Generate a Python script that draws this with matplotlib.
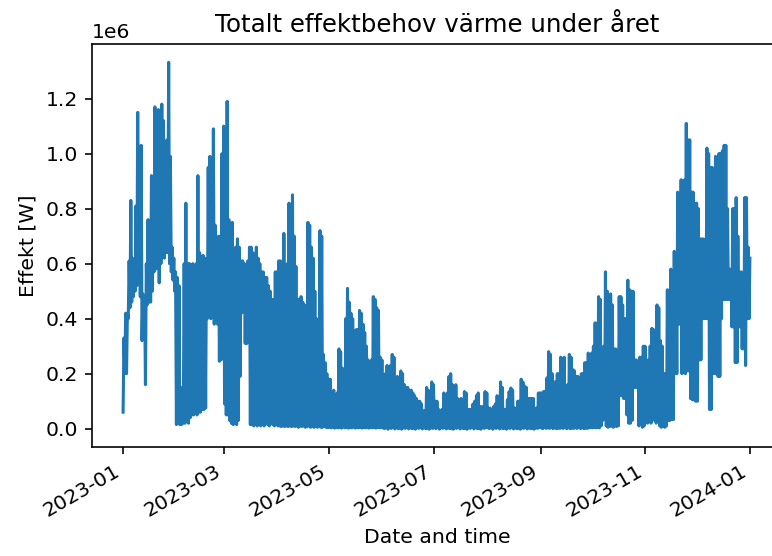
import numpy as np
import matplotlib
matplotlib.use("Agg")
import matplotlib.pyplot as plt
import matplotlib.dates as mdates

# Daily upper / lower envelope of the heat demand, in units of 1e6 W
daily_max = [
    # Jan
    0.33, 0.42, 0.42, 0.61, 0.83, 0.62, 0.60, 0.81, 1.15, 1.00, 1.03, 0.49, 0.48, 0.60, 0.76, 0.70,
    0.92, 0.71, 1.17, 1.15, 1.16, 1.15, 1.18, 1.12, 0.99, 1.05, 1.332, 0.99, 0.66, 0.62, 0.57,
    # Feb
    0.55, 0.52, 0.15, 0.12, 0.60, 0.82, 0.60, 0.60, 0.58, 0.60, 0.55, 0.60, 0.92, 0.64, 0.60, 0.63,
    0.62, 0.60, 0.95, 0.99, 0.80, 1.09, 0.74, 0.69, 0.70, 0.70, 1.00, 1.10,
    # Mar
    1.05, 1.19, 0.76, 0.60, 0.75, 0.62, 0.66, 0.69, 0.66, 0.61, 0.61, 0.60, 0.58, 0.61, 0.66, 0.66,
    0.64, 0.62, 0.66, 0.62, 0.60, 0.57, 0.57, 0.55, 0.55, 0.52, 0.50, 0.47, 0.47, 0.57, 0.57,
    # Apr
    0.61, 0.61, 0.60, 0.71, 0.59, 0.60, 0.82, 0.80, 0.85, 0.70, 0.59, 0.47, 0.47, 0.48, 0.46, 0.45,
    0.44, 0.75, 0.74, 0.66, 0.62, 0.50, 0.40, 0.32, 0.72, 0.70, 0.27, 0.24, 0.20, 0.18,
    # May
    0.18, 0.13, 0.14, 0.12, 0.13, 0.29, 0.28, 0.22, 0.21, 0.40, 0.51, 0.46, 0.42, 0.40, 0.17, 0.36,
    0.36, 0.43, 0.42, 0.38, 0.35, 0.30, 0.25, 0.20, 0.25, 0.48, 0.47, 0.44, 0.43, 0.26, 0.25,
    # Jun
    0.19, 0.20, 0.23, 0.22, 0.23, 0.27, 0.26, 0.18, 0.19, 0.18, 0.21, 0.20, 0.16, 0.15, 0.15, 0.14,
    0.14, 0.13, 0.12, 0.11, 0.10, 0.10, 0.09, 0.065, 0.065, 0.15, 0.14, 0.13, 0.17, 0.16,
    # Jul
    0.10, 0.10, 0.07, 0.065, 0.07, 0.13, 0.12, 0.13, 0.19, 0.20, 0.16, 0.15, 0.16, 0.11, 0.09, 0.11,
    0.10, 0.135, 0.13, 0.07, 0.07, 0.07, 0.09, 0.10, 0.12, 0.13, 0.08, 0.08, 0.08, 0.135, 0.13,
    # Aug
    0.075, 0.075, 0.07, 0.08, 0.09, 0.12, 0.10, 0.17, 0.15, 0.07, 0.07, 0.105, 0.135, 0.148, 0.14, 0.075,
    0.075, 0.10, 0.10, 0.18, 0.17, 0.155, 0.15, 0.11, 0.11, 0.11, 0.11, 0.075, 0.075, 0.13, 0.13,
    # Sep
    0.13, 0.135, 0.135, 0.185, 0.28, 0.27, 0.20, 0.17, 0.17, 0.20, 0.20, 0.26, 0.255, 0.26, 0.155, 0.16,
    0.27, 0.26, 0.215, 0.21, 0.19, 0.19, 0.14, 0.20, 0.20, 0.24, 0.24, 0.275, 0.27, 0.275,
    # Oct
    0.30, 0.385, 0.38, 0.48, 0.47, 0.26, 0.30, 0.57, 0.50, 0.26, 0.49, 0.45, 0.29, 0.29, 0.28, 0.48,
    0.48, 0.45, 0.40, 0.40, 0.54, 0.505, 0.50, 0.50, 0.25, 0.25, 0.24, 0.26, 0.26, 0.30, 0.30,
    # Nov
    0.25, 0.25, 0.30, 0.365, 0.36, 0.32, 0.45, 0.44, 0.32, 0.30, 0.20, 0.20, 0.505, 0.50, 0.58, 0.55,
    0.645, 0.64, 0.86, 0.85, 0.905, 0.90, 0.905, 1.11, 1.05, 1.05, 0.86, 0.86, 0.82, 0.82,
    # Dec
    0.80, 0.69, 0.69, 0.69, 0.60, 1.02, 1.00, 0.95, 0.95, 0.60, 0.99, 0.98, 1.00, 1.00, 1.01, 1.03,
    1.03, 0.80, 0.58, 0.58, 0.80, 0.80, 0.84, 0.70, 0.57, 0.57, 0.55, 0.84, 0.84, 0.66, 0.62,
]

daily_min = [
    # Jan
    0.06, 0.20, 0.20, 0.40, 0.44, 0.46, 0.48, 0.50, 0.52, 0.55, 0.48, 0.32, 0.33, 0.16, 0.45, 0.46,
    0.46, 0.50, 0.57, 0.58, 0.60, 0.53, 0.60, 0.66, 0.62, 0.64, 0.64, 0.60, 0.57, 0.54, 0.50,
    # Feb
    0.015, 0.02, 0.015, 0.015, 0.02, 0.02, 0.03, 0.02, 0.04, 0.05, 0.05, 0.06, 0.05, 0.06, 0.06, 0.07,
    0.07, 0.075, 0.40, 0.42, 0.40, 0.45, 0.38, 0.40, 0.38, 0.245, 0.25, 0.30,
    # Mar
    0.09, 0.05, 0.05, 0.03, 0.02, 0.015, 0.02, 0.015, 0.03, 0.19, 0.42, 0.44, 0.31, 0.31, 0.40, 0.015,
    0.015, 0.01, 0.015, 0.01, 0.015, 0.01, 0.015, 0.01, 0.02, 0.015, 0.01, 0.02, 0.015, 0.01, 0.015,
    # Apr
    0.01, 0.01, 0.008, 0.01, 0.008, 0.01, 0.008, 0.01, 0.008, 0.01, 0.008, 0.01, 0.005, 0.01, 0.008, 0.01,
    0.005, 0.008, 0.01, 0.005, 0.008, 0.005, 0.01, 0.005, 0.008, 0.005, 0.005, 0.008, 0.005, 0.004,
    # May
    0.005, 0.003, 0.006, 0.002, 0.005, 0.003, 0.004, 0.002, 0.006, 0.003, 0.005, 0.002, 0.004, 0.003, 0.006, 0.002,
    0.005, 0.003, 0.004, 0.002, 0.006, 0.003, 0.005, 0.002, 0.004, 0.003, 0.006, 0.002, 0.005, 0.003, 0.004,
    # Jun
    0.003, 0.0, 0.004, -0.002, 0.003, 0.001, 0.004, -0.001, 0.003, 0.0, 0.002, -0.002, 0.003, 0.001, 0.004, -0.001,
    0.003, 0.0, 0.002, -0.002, 0.003, 0.001, 0.004, -0.001, 0.003, 0.0, 0.002, -0.002, 0.003, 0.001,
    # Jul
    0.003, 0.0, 0.004, -0.002, 0.003, 0.001, 0.004, -0.001, 0.003, 0.0, 0.002, -0.002, 0.003, 0.001, 0.004, -0.001,
    0.003, 0.0, 0.002, -0.002, 0.003, 0.001, 0.004, -0.001, 0.003, 0.0, 0.002, -0.002, 0.003, 0.001, 0.004,
    # Aug
    0.003, 0.0, 0.004, -0.002, 0.003, 0.001, 0.004, -0.001, 0.003, 0.0, 0.002, -0.002, 0.003, 0.001, 0.004, -0.001,
    0.003, 0.0, 0.002, -0.002, 0.003, 0.001, 0.004, -0.001, 0.003, 0.0, 0.002, -0.002, 0.003, 0.001, 0.004,
    # Sep
    0.003, 0.0, 0.004, 0.001, 0.003, 0.001, 0.004, 0.0, 0.003, 0.0, 0.002, 0.001, 0.003, 0.001, 0.004, 0.0,
    0.003, 0.0, 0.002, 0.001, 0.003, 0.001, 0.004, 0.0, 0.003, 0.0, 0.002, 0.001, 0.003, 0.005,
    # Oct
    0.003, 0.005, 0.003, 0.005, 0.003, 0.01, 0.03, 0.04, 0.01, 0.005, 0.008, 0.01, 0.005, 0.01, 0.008, 0.01,
    0.12, 0.12, 0.11, 0.11, 0.05, 0.02, 0.02, 0.03, 0.15, 0.15, 0.15, 0.01, 0.02, 0.005, 0.01,
    # Nov
    0.03, 0.02, 0.05, 0.02, 0.04, 0.03, 0.02, 0.03, 0.01, 0.005, 0.01, 0.005, 0.01, 0.03, 0.03, 0.035,
    0.033, 0.20, 0.20, 0.38, 0.38, 0.20, 0.21, 0.20, 0.21, 0.21, 0.11, 0.105, 0.105, 0.10,
    # Dec
    0.10, 0.25, 0.25, 0.40, 0.40, 0.40, 0.40, 0.07, 0.07, 0.20, 0.20, 0.20, 0.19, 0.19, 0.40, 0.47,
    0.47, 0.47, 0.47, 0.47, 0.37, 0.37, 0.24, 0.24, 0.37, 0.37, 0.29, 0.29, 0.23, 0.40, 0.40,
]

title = "Totalt effektbehov värme under året"
xlabel = "Date and time"
ylabel = "Effekt [W]"

n = len(daily_max)
assert len(daily_min) == n
days = np.arange(n)
start = np.datetime64("2023-01-01T00:00")
t_lo = start + (days * 24 + 6).astype("timedelta64[h]")
t_hi = start + (days * 24 + 18).astype("timedelta64[h]")
times = np.empty(2 * n, dtype="datetime64[h]")
times[0::2] = t_lo
times[1::2] = t_hi
vals = np.empty(2 * n)
vals[0::2] = np.array(daily_min) * 1e6
vals[1::2] = np.array(daily_max) * 1e6

DPI = 147
fig = plt.figure(figsize=(772 / DPI, 556 / DPI), dpi=DPI)
ax = fig.add_axes([92 / 772, 109 / 556, 690 / 772, 403 / 556])
ax.plot(times.astype("datetime64[m]").astype(object), vals, color="#1f77b4", lw=1.5)

ax.set_xlim(np.datetime64("2023-01-01") - np.timedelta64(428, "h"),
            np.datetime64("2023-01-01") + np.timedelta64(9202, "h"))
ax.set_ylim(-0.0666e6, 1.3986e6)
ax.xaxis.set_major_locator(mdates.MonthLocator(bymonth=[1, 3, 5, 7, 9, 11]))
ax.xaxis.set_major_formatter(mdates.DateFormatter("%Y-%m"))
for lab in ax.get_xticklabels():
    lab.set_rotation(30)
    lab.set_ha("right")

ax.set_title(title)
ax.set_xlabel(xlabel)
ax.set_ylabel(ylabel)

fig.savefig("out.png", dpi=DPI)
